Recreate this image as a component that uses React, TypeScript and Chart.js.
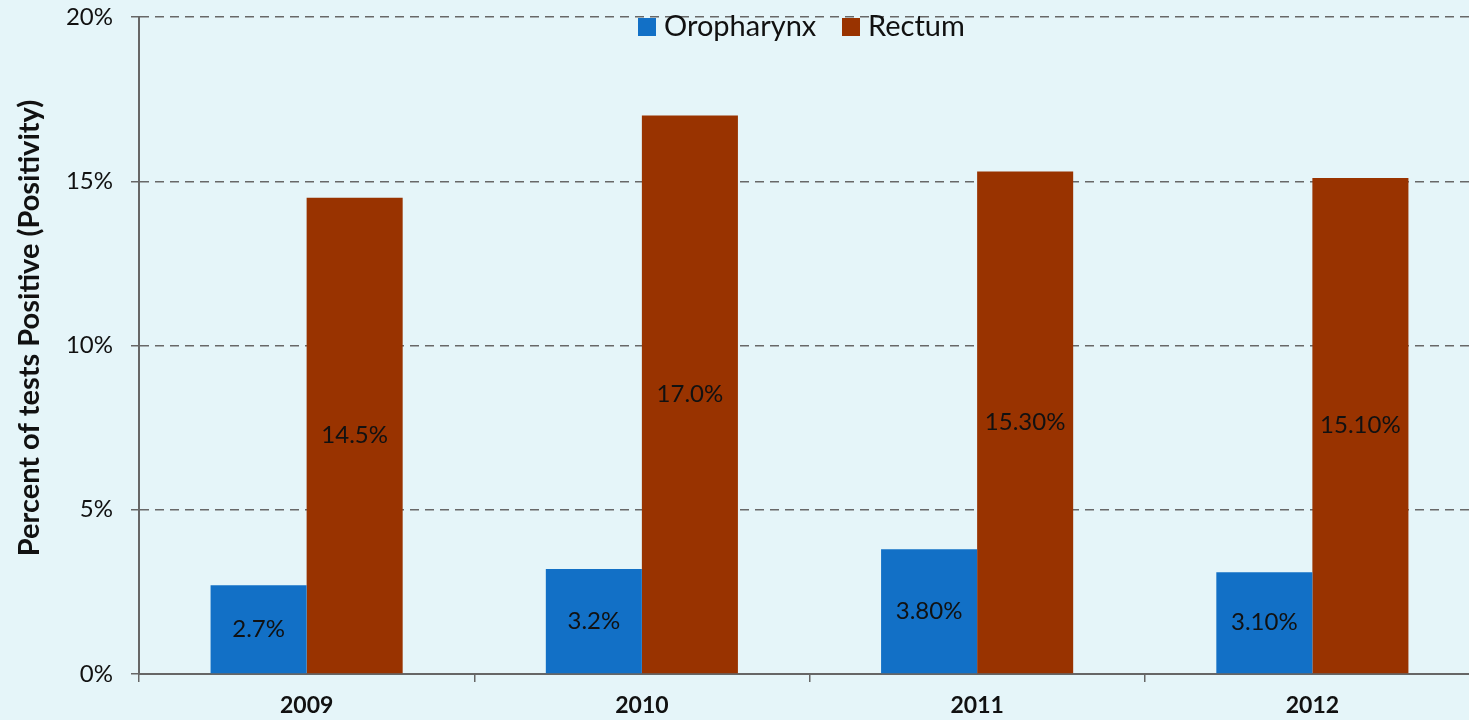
import React, { useEffect, useRef } from "react";
import { Chart, registerables } from "chart.js";

Chart.register(...registerables);

const categories = ["2009", "2010", "2011", "2012"];
const oropharynx = [2.7, 3.2, 3.8, 3.1];
const rectum = [14.5, 17.0, 15.3, 15.1];
const oropharynxLabels = ["2.7%", "3.2%", "3.80%", "3.10%"];
const rectumLabels = ["14.5%", "17.0%", "15.30%", "15.10%"];
const seriesNames = ["Oropharynx", "Rectum"];
const yTitle = "Percent of tests Positive (Positivity)";

const BLUE = "#1270c6";
const RED = "#993300";
const BG = "#e5f5f9";
const FONT = "Lato, 'Open Sans', sans-serif";

export default function App() {
  const ref = useRef<HTMLCanvasElement | null>(null);

  useEffect(() => {
    const canvas = ref.current;
    if (!canvas) return;

    const bgPlugin = {
      id: "bg",
      beforeDraw(chart: any) {
        const { ctx, width, height } = chart;
        ctx.save();
        ctx.fillStyle = BG;
        ctx.fillRect(0, 0, width, height);
        ctx.restore();
      },
    };

    const labelPlugin = {
      id: "labels",
      afterDatasetsDraw(chart: any) {
        const ctx = chart.ctx;
        const lists = [oropharynxLabels, rectumLabels];
        ctx.save();
        ctx.font = `24px ${FONT}`;
        ctx.fillStyle = "#111";
        ctx.textAlign = "center";
        ctx.textBaseline = "middle";
        chart.data.datasets.forEach((_: any, di: number) => {
          const meta = chart.getDatasetMeta(di);
          meta.data.forEach((el: any, i: number) => {
            const y = (el.y + el.base) / 2;
            ctx.fillText(lists[di][i], el.x, y);
          });
        });
        ctx.restore();
      },
      afterDraw(chart: any) {
        const ctx = chart.ctx;
        ctx.save();
        // y title
        ctx.translate(30, 328);
        ctx.rotate(-Math.PI / 2);
        ctx.font = `bold 29px ${FONT}`;
        ctx.fillStyle = "#111";
        ctx.textAlign = "center";
        ctx.textBaseline = "middle";
        ctx.fillText(yTitle, 0, 0);
        ctx.restore();

        // legend
        ctx.save();
        ctx.font = `29px ${FONT}`;
        ctx.textBaseline = "middle";
        ctx.fillStyle = "#111";
        const colors = [BLUE, RED];
        const boxXs = [638, 842];
        seriesNames.forEach((name, i) => {
          ctx.fillStyle = colors[i];
          ctx.fillRect(boxXs[i], 18, 18, 18);
          ctx.fillStyle = "#111";
          ctx.fillText(name, boxXs[i] + 26, 27);
        });
        ctx.restore();
      },
    };

    const chart = new Chart(canvas, {
      type: "bar",
      data: {
        labels: categories,
        datasets: [
          {
            label: seriesNames[0],
            data: oropharynx,
            backgroundColor: BLUE,
            borderWidth: 0,
            barPercentage: 1,
            categoryPercentage: 0.573,
          },
          {
            label: seriesNames[1],
            data: rectum,
            backgroundColor: RED,
            borderWidth: 0,
            barPercentage: 1,
            categoryPercentage: 0.573,
          },
        ],
      },
      options: {
        animation: false,
        responsive: false,
        devicePixelRatio: 1,
        layout: { padding: { top: 17, right: 2, left: 0, bottom: 0 } },
        plugins: {
          legend: { display: false },
          tooltip: { enabled: false },
        },
        scales: {
          x: {
            grid: {
              display: true,
              drawOnChartArea: false,
              offset: true,
              tickLength: 8,
              color: "#666",
              lineWidth: 1.5,
            },
            border: { display: true, color: "#666", width: 2 },
            ticks: {
              font: { family: FONT, size: 23, weight: "bold" },
              color: "#111",
              padding: 10,
            },
            afterFit(scale: any) {
              scale.height = 46;
              scale.paddingLeft = 0;
              scale.paddingRight = 0;
            },
          },
          y: {
            min: 0,
            max: 20,
            grid: {
              color: (c: any) => (c.tick && c.tick.value === 0 ? "rgba(0,0,0,0)" : "#686868"),
              tickColor: "#666",
              lineWidth: 1.5,
              tickLength: 8,
              tickBorderDash: [],
            },
            border: { display: true, color: "#666", width: 2, dash: [9, 6] },
            ticks: {
              stepSize: 5,
              callback: (v: any) => `${v}%`,
              font: { family: FONT, size: 24 },
              color: "#111",
              padding: 18,
            },
            afterFit(scale: any) {
              scale.width = 139;
              scale.paddingTop = 0;
              scale.paddingBottom = 0;
            },
          },
        },
      },
      plugins: [bgPlugin, labelPlugin],
    } as any);

    return () => chart.destroy();
  }, []);

  return (
    <div
      style={{
        position: "fixed",
        left: 0,
        top: 0,
        width: 1469,
        height: 720,
        overflow: "hidden",
        background: BG,
      }}
    >
      <canvas ref={ref} width={1482} height={720} style={{ display: "block" }} />
    </div>
  );
}
